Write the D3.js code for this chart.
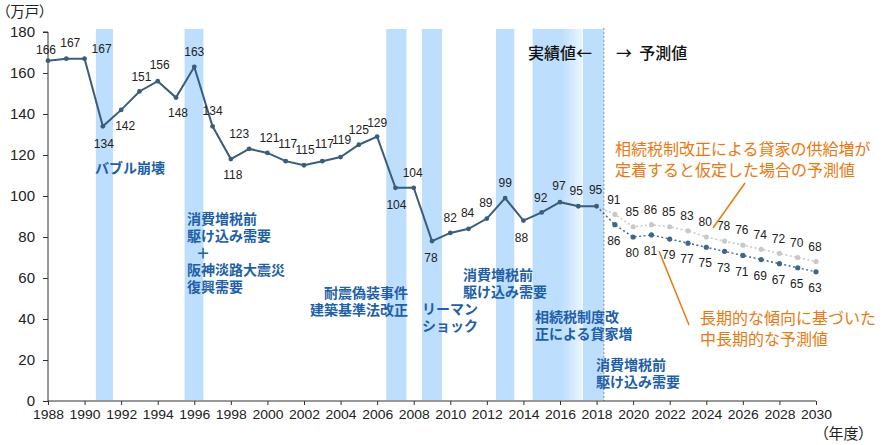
<!DOCTYPE html>
<html><head><meta charset="utf-8">
<script src="https://cdn.jsdelivr.net/npm/d3@7"></script>
<style>
html,body{margin:0;padding:0;background:#fff;}
svg{display:block;}
</style></head>
<body>
<svg id="chart" width="887" height="445"></svg>
<script>
// ---------- data ----------
const actualYears = d3.range(1988, 2019);
const actualValues = [166,167,167,134,142,151,156,148,163,134,118,123,121,117,115,117,119,125,129,104,104,78,82,84,89,99,88,92,97,95,95];
const projYears = d3.range(2019, 2031);
const projHigh = [91,85,86,85,83,80,78,76,74,72,70,68];   // 相続税制改正…定着
const projLow  = [86,80,81,79,77,75,73,71,69,67,65,63];   // 長期的な傾向
const yTicks = [0,20,40,60,80,100,120,140,160,180];
const xTicks = d3.range(1988, 2031, 2);
const shadeStart = [1990.62, 1995.47, 2006.5, 2008.45, 2012.5, 2014.5, 2017.25];
const shadeEnd   = [1991.55, 1996.5, 2007.6, 2009.55, 2013.5, 2017.2, 2018.4];
const shadeFade  = [false,false,false,false,false,true,false];
const boundaryYear = 2018.4;

// label offsets (layout only) for actual series
const actualLabelOff = [[-2,-11],[4,-16],[17,-10],[1,17],[4,16],[2,-15],[2,-16],[2,15],[0,-15],[0,-16],
  [2,16],[-10,-15],[2,-15],[2,-17],[1,-15],[2,-17],[1,-17],[0,-15],[0,-14],[1,17],[-1,-15],[-1,17],
  [0,-15],[-1,-16],[-1,-16],[0,-15],[-2,17],[-1,-15],[-1,-16],[-2,-15],[-1,-16]];

// ---------- scales ----------
const svg = d3.select("#chart");
const x = d3.scaleLinear().domain([1988, 2030]).range([48, 816]);
const y = d3.scaleLinear().domain([0, 180]).range([401, 32]);
const NUM = "'Liberation Sans', Arial, sans-serif";
const JP = "'Noto Sans CJK JP', sans-serif";

// gradient
const defs = svg.append("defs");
const grad = defs.append("linearGradient").attr("id","fade").attr("x1","0").attr("x2","1").attr("y1","0").attr("y2","0");
grad.append("stop").attr("offset","0").attr("stop-color","#BDDEFD");
grad.append("stop").attr("offset","0.58").attr("stop-color","#BDDEFD");
grad.append("stop").attr("offset","1").attr("stop-color","#E9F4FE");

// shaded periods
svg.append("g").selectAll("rect").data(shadeStart).join("rect")
  .attr("x", d => x(d))
  .attr("width", (d,i) => x(shadeEnd[i]) - x(d))
  .attr("y", y(181.5))
  .attr("height", y(0.5) - y(181.5))
  .attr("fill", (d,i) => shadeFade[i] ? "url(#fade)" : "#BDDEFD");

// boundary dashed line
svg.append("line")
  .attr("x1", x(boundaryYear)).attr("x2", x(boundaryYear))
  .attr("y1", y(182)).attr("y2", y(0))
  .attr("stroke", "#8a8a8a").attr("stroke-width", 1).attr("stroke-dasharray", "2,2");

// axes
const yAxis = d3.axisLeft(y).tickValues(yTicks).tickSize(5).tickPadding(8);
const gy = svg.append("g").attr("transform", `translate(${x(1988)},0)`).call(yAxis);
gy.select(".domain").attr("stroke","#333").attr("d", `M-5,${y(180)}H0V${y(0)}`);
gy.selectAll(".tick line").attr("stroke","#333");
gy.selectAll(".tick text").attr("font-family", NUM).attr("font-size", 15).attr("fill","#222");

const xAxis = d3.axisBottom(x).tickValues(xTicks).tickFormat(d3.format("d")).tickSize(4).tickPadding(5);
const gx = svg.append("g").attr("transform", `translate(0,${y(0)})`).call(xAxis);
gx.select(".domain").attr("stroke","#333").attr("d", `M${x(1988)},0H${x(2030)}`);
gx.selectAll(".tick line").attr("stroke","#333");
gx.selectAll(".tick text").attr("font-family", NUM).attr("font-size", 12.5).attr("fill","#222")
  .attr("textLength", 31).attr("lengthAdjust","spacingAndGlyphs");

// axis titles
svg.append("text").attr("x", 3).attr("y", 17).attr("font-family", JP).attr("font-size", 14.5)
  .attr("fill","#222").style("font-feature-settings","'palt'").text("（万戸）");
svg.append("text").attr("x", 821).attr("y", 439).attr("font-family", JP).attr("font-size", 15)
  .attr("fill","#222").style("font-feature-settings","'palt'").text("（年度）");

// lines
const line = d3.line().x(d => x(d[0])).y(d => y(d[1]));
const actual = actualYears.map((yr,i) => [yr, actualValues[i]]);
const last = actual[actual.length-1];
const high = [last].concat(projYears.map((yr,i) => [yr, projHigh[i]]));
const low  = [last].concat(projYears.map((yr,i) => [yr, projLow[i]]));

svg.append("path").datum(high).attr("d", line).attr("fill","none")
  .attr("stroke","#C9C9C9").attr("stroke-width",1.6).attr("stroke-dasharray","2,2.5");
svg.append("path").datum(low).attr("d", line).attr("fill","none")
  .attr("stroke","#3D6687").attr("stroke-width",1.4).attr("stroke-dasharray","2,2.5");
svg.append("path").datum(actual).attr("d", line).attr("fill","none")
  .attr("stroke","#3A5D7C").attr("stroke-width",2);

// markers
svg.append("g").selectAll("circle").data(high.slice(1)).join("circle")
  .attr("cx", d => x(d[0])).attr("cy", d => y(d[1])).attr("r", 2.6).attr("fill","#C9C9C9");
svg.append("g").selectAll("circle").data(low.slice(1)).join("circle")
  .attr("cx", d => x(d[0])).attr("cy", d => y(d[1])).attr("r", 2.6).attr("fill","#3D6687");
svg.append("g").selectAll("circle").data(actual).join("circle")
  .attr("cx", d => x(d[0])).attr("cy", d => y(d[1])).attr("r", 2.4).attr("fill","#3A5D7C");

// value labels
function addLabels(data, off) {
  svg.append("g").selectAll("text").data(data).join("text")
    .attr("x", (d,i) => x(d[0]) + off(i)[0])
    .attr("y", (d,i) => y(d[1]) + off(i)[1])
    .attr("dy", "0.35em")
    .attr("text-anchor","middle")
    .attr("font-family", NUM).attr("font-size", 12).attr("fill","#222")
    .text(d => d[1]);
}
addLabels(actual, i => actualLabelOff[i]);
addLabels(high.slice(1), i => [-1, -15]);
addLabels(low.slice(1), i => [-1, 16]);

// blue annotations
const ann = [
  {x: 95,  y: 168, lines: ["バブル崩壊"], anchor: "start"},
  {x: 187, y: 219, lines: ["消費増税前","駆け込み需要"], anchor: "start"},
  {x: 203, y: 253, lines: ["＋"], anchor: "middle"},
  {x: 187, y: 270, lines: ["阪神淡路大震災","復興需要"], anchor: "start"},
  {x: 408, y: 293, lines: ["耐震偽装事件","建築基準法改正"], anchor: "end"},
  {x: 422, y: 309, lines: ["リーマン","ショック"], anchor: "start"},
  {x: 463, y: 275, lines: ["消費増税前","駆け込み需要"], anchor: "start"},
  {x: 535, y: 317, lines: ["相続税制度改","正による貸家増"], anchor: "start"},
  {x: 596, y: 365, lines: ["消費増税前","駆け込み需要"], anchor: "start"}
];
ann.forEach(a => {
  const t = svg.append("text").attr("font-family", JP).attr("font-size", 14).attr("font-weight", 700)
    .attr("fill", "#1F5FA8").attr("text-anchor", a.anchor);
  a.lines.forEach((s,i) => t.append("tspan").attr("x", a.x).attr("y", a.y + i*17).attr("dy","0.35em").text(s));
});

// actual / projection header
svg.append("text").attr("x", 528).attr("y", 53).attr("dy","0.35em").attr("font-family", JP)
  .attr("font-size", 16).attr("font-weight", 500).attr("fill","#111").text("実績値←");
svg.append("text").attr("x", 616).attr("y", 53).attr("dy","0.35em").attr("font-family", JP)
  .attr("font-size", 16).attr("font-weight", 500).attr("fill","#111").text("→  予測値").attr("xml:space","preserve").style("white-space","pre");

// orange annotations
const orange = "#E8790F";
[[615,149,"相続税制改正による貸家の供給増が"],[615,170,"定着すると仮定した場合の予測値"],
 [700,318,"長期的な傾向に基づいた"],[700,339,"中長期的な予測値"]].forEach(r => {
  svg.append("text").attr("x", r[0]).attr("y", r[1]).attr("dy","0.35em").attr("font-family", JP)
    .attr("font-size", 16).attr("fill", orange).text(r[2]);
});
svg.append("line").attr("x1",745).attr("y1",183).attr("x2",713).attr("y2",228)
  .attr("stroke",orange).attr("stroke-width",1.5);
svg.append("line").attr("x1",659).attr("y1",251).attr("x2",689).attr("y2",325)
  .attr("stroke",orange).attr("stroke-width",1.5);
</script>
</body></html>
